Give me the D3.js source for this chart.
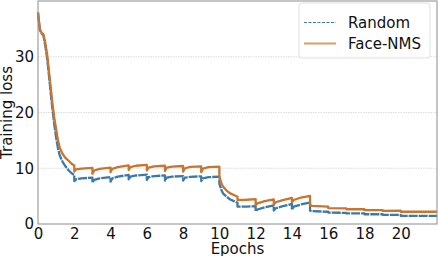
<!DOCTYPE html>
<html>
<head>
<meta charset="utf-8">
<script src="https://cdn.jsdelivr.net/npm/d3@7"></script>
<style>
  body { margin: 0; background: #fff; }
  svg text { font-family: "DejaVu Sans", sans-serif; fill: #111; }
</style>
</head>
<body>
<svg id="chart" width="438" height="256"></svg>
<script>
// loss curves, [epoch, loss]
var randomLoss = [
  [0, 37.8], [0.1, 34.8], [0.2, 34.2], [0.3, 33.8], [0.4, 32.0], [0.5, 29.8], [0.6, 26.8],
  [0.7, 23.5], [0.8, 20.5], [0.9, 17.8], [1.0, 15.5], [1.1, 13.6], [1.2, 12.3], [1.35, 11.2],
  [1.5, 10.4], [1.7, 9.6], [1.85, 9.1], [2.0, 8.8],
  [2.0, 7.7], [2.1, 8.0], [2.4, 8.2], [3.0, 8.3],
  [3.0, 7.4], [3.1, 7.9], [3.4, 8.2], [4.0, 8.4],
  [4.0, 7.6], [4.1, 8.2], [4.4, 8.5], [5.0, 8.8],
  [5.0, 8.0], [5.1, 8.5], [5.4, 8.7], [6.0, 8.85],
  [6.0, 7.9], [6.1, 8.4], [6.4, 8.6], [7.0, 8.7],
  [7.0, 7.8], [7.1, 8.3], [7.4, 8.5], [8.0, 8.6],
  [8.0, 7.8], [8.1, 8.3], [8.4, 8.45], [9.0, 8.55],
  [9.0, 7.7], [9.1, 8.2], [9.4, 8.4], [10.0, 8.5],
  [10.0, 7.2], [10.1, 6.2], [10.2, 5.5], [10.4, 4.9], [10.6, 4.4], [10.8, 4.1], [11.0, 3.8],
  [11.0, 3.1], [11.5, 3.1], [12.0, 3.2],
  [12.0, 2.3], [12.1, 2.6], [12.5, 3.0], [13.0, 3.35],
  [13.0, 2.4], [13.1, 2.8], [13.5, 3.2], [14.0, 3.6],
  [14.0, 2.6], [14.1, 3.1], [14.5, 3.5], [15.0, 3.85],
  [15.0, 2.4], [15.1, 2.3], [16.0, 2.2],
  [16.0, 2.05], [17.0, 2.0],
  [17.0, 1.9], [18.0, 1.9],
  [18.0, 1.75], [19.0, 1.75],
  [19.0, 1.65], [20.0, 1.65],
  [20.0, 1.45], [22.0, 1.45]
];

var faceNmsLoss = [
  [0, 38.0], [0.1, 35.0], [0.2, 34.3], [0.3, 34.0], [0.4, 32.5], [0.5, 30.5], [0.6, 27.5],
  [0.7, 24.5], [0.8, 21.5], [0.9, 19.0], [1.0, 17.0], [1.1, 15.0], [1.2, 13.7], [1.35, 12.6],
  [1.5, 11.9], [1.7, 11.3], [1.85, 10.8], [2.0, 10.5],
  [2.0, 9.4], [2.1, 9.8], [2.4, 9.95], [3.0, 10.05],
  [3.0, 9.0], [3.1, 9.6], [3.4, 9.9], [4.0, 10.1],
  [4.0, 9.3], [4.1, 9.9], [4.4, 10.2], [5.0, 10.5],
  [5.0, 9.7], [5.1, 10.2], [5.4, 10.45], [6.0, 10.6],
  [6.0, 9.6], [6.1, 10.1], [6.4, 10.35], [7.0, 10.45],
  [7.0, 9.5], [7.1, 10.1], [7.4, 10.3], [8.0, 10.4],
  [8.0, 9.4], [8.1, 10.0], [8.4, 10.25], [9.0, 10.35],
  [9.0, 9.3], [9.1, 9.95], [9.4, 10.2], [10.0, 10.3],
  [10.0, 8.6], [10.1, 7.4], [10.2, 6.7], [10.4, 6.0], [10.6, 5.5], [10.8, 5.2], [11.0, 4.9],
  [11.0, 4.3], [11.5, 4.35], [12.0, 4.45],
  [12.0, 3.4], [12.1, 3.7], [12.5, 4.1], [13.0, 4.4],
  [13.0, 3.5], [13.1, 3.9], [13.5, 4.3], [14.0, 4.7],
  [14.0, 3.9], [14.1, 4.3], [14.5, 4.75], [15.0, 5.05],
  [15.0, 3.4], [15.1, 3.25], [16.0, 3.1],
  [16.0, 2.85], [17.0, 2.8],
  [17.0, 2.65], [18.0, 2.65],
  [18.0, 2.5], [19.0, 2.5],
  [19.0, 2.35], [20.0, 2.4],
  [20.0, 2.2], [22.0, 2.2]
];

var xTicks = [0, 2, 4, 6, 8, 10, 12, 14, 16, 18, 20];
var yTicks = [0, 10, 20, 30];
var gridValues = [10, 20, 30];
var seriesNames = ["Random", "Face-NMS"];

var colors = { "Random": "#3b79a9", "Face-NMS": "#c9742f" };

var svg = d3.select('#chart');
var margin = { top: 1, right: 1, bottom: 32, left: 38 };
var width = 438 - margin.left - margin.right;
var height = 256 - margin.top - margin.bottom;

var x = d3.scaleLinear().domain([0, 22]).range([margin.left, margin.left + width]);
var y = d3.scaleLinear().domain([0, 40]).range([margin.top + height, margin.top]);

// grid
svg.append('g').selectAll('line')
  .data(gridValues)
  .enter().append('line')
  .attr('x1', x(0)).attr('x2', x(22))
  .attr('y1', function(d) { return y(d); })
  .attr('y2', function(d) { return y(d); })
  .attr('stroke', '#d4d4d4')
  .attr('stroke-width', 0.8)
  .attr('stroke-dasharray', '1.5,1');

var line = d3.line()
  .x(function(d) { return x(d[0]); })
  .y(function(d) { return y(d[1]); });

svg.append('path')
  .datum(randomLoss)
  .attr('d', line)
  .attr('fill', 'none')
  .attr('stroke', colors["Random"])
  .attr('stroke-width', 2.3)
  .attr('stroke-linejoin', 'round')
  .attr('stroke-dasharray', '9,1');

svg.append('path')
  .datum(faceNmsLoss)
  .attr('d', line)
  .attr('fill', 'none')
  .attr('stroke', colors["Face-NMS"])
  .attr('stroke-linejoin', 'round')
  .attr('stroke-width', 2.3);

// frame
svg.append('rect')
  .attr('x', x(0)).attr('y', y(40))
  .attr('width', width).attr('height', height)
  .attr('fill', 'none')
  .attr('stroke', '#8c8c8c')
  .attr('stroke-width', 1);

// axes
var xAxis = d3.axisBottom(x).tickValues(xTicks).tickSize(0).tickPadding(4);
var yAxis = d3.axisLeft(y).tickValues(yTicks).tickSize(0).tickPadding(4);

var gx = svg.append('g').attr('transform', 'translate(0,' + (margin.top + height) + ')').call(xAxis);
var gy = svg.append('g').attr('transform', 'translate(' + margin.left + ',0)').call(yAxis);
[gx, gy].forEach(function(g) {
  g.select('.domain').remove();
  g.selectAll('text')
    .style('font-family', '"DejaVu Sans", sans-serif')
    .style('font-size', '15px')
    .attr('fill', '#111');
});

svg.append('text')
  .attr('x', x(11))
  .attr('y', 254)
  .attr('text-anchor', 'middle')
  .style('font-size', '15px')
  .text('Epochs');

svg.append('text')
  .attr('transform', 'translate(12,' + y(20) + ') rotate(-90)')
  .attr('text-anchor', 'middle')
  .style('font-size', '15px')
  .text('Training loss');

// legend
var legend = svg.append('g').attr('transform', 'translate(299,3)');
legend.append('rect')
  .attr('width', 131).attr('height', 55)
  .attr('rx', 3)
  .attr('fill', 'rgba(255,255,255,0.8)')
  .attr('stroke', '#e0e0e0');

var entry = legend.selectAll('g.entry')
  .data(seriesNames)
  .enter().append('g')
  .attr('class', 'entry')
  .attr('transform', function(d, i) { return 'translate(0,' + (19.5 + i * 21) + ')'; });

entry.append('line')
  .attr('x1', 5).attr('x2', 37)
  .attr('stroke', function(d) { return colors[d]; })
  .attr('stroke-opacity', function(d) { return d === "Random" ? 1 : 0.7; })
  .attr('stroke-width', function(d) { return d === "Random" ? 1.2 : 2; })
  .attr('stroke-dasharray', function(d) { return d === "Random" ? '3,1.5' : null; });

entry.append('text')
  .attr('x', 49)
  .attr('dy', '0.35em')
  .style('font-size', '15px')
  .text(function(d) { return d; });
</script>
</body>
</html>
